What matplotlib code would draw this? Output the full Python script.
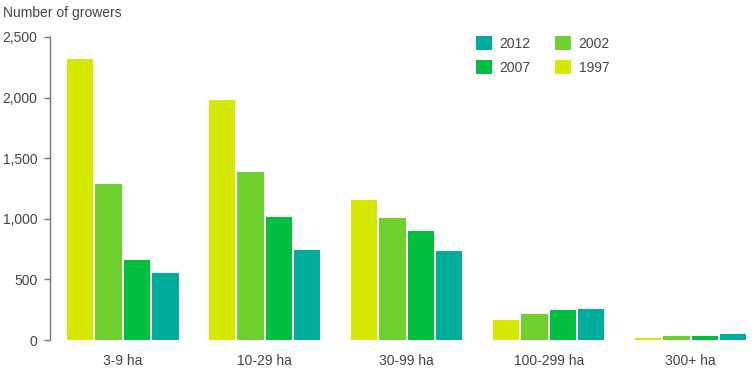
import matplotlib.pyplot as plt
import numpy as np

plt.rcParams['font.family'] = ['Liberation Sans', 'DejaVu Sans']

# data
categories = ['3-9 ha', '10-29 ha', '30-99 ha', '100-299 ha', '300+ ha']
years = ['1997', '2002', '2007', '2012']
growers_1997 = [2320, 1980, 1155, 168, 19]
growers_2002 = [1287, 1389, 1006, 212, 36]
growers_2007 = [660, 1012, 902, 247, 36]
growers_2012 = [550, 745, 732, 256, 50]
yticks = [0, 500, 1000, 1500, 2000, 2500]

colors = {'1997': '#d4e800', '2002': '#6dd02e', '2007': '#00bf3f', '2012': '#00ad9d'}
series = [growers_1997, growers_2002, growers_2007, growers_2012]

fig = plt.figure(figsize=(7.54, 3.69), dpi=100)
ax = fig.add_axes([50/754, 1-340/369, 1-50/754, (340-37)/369])

x = np.arange(len(categories))
step = 0.2
bars = {}
for i, (yr, vals) in enumerate(zip(years, series)):
    bars[yr] = ax.bar(x + (i - 1.5)*step, vals, width=0.186, color=colors[yr],
                      linewidth=0, label=yr)

ax.set_ylim(0, 2500)
ax.set_xlim(-0.512, 4.446)
ax.set_yticks(yticks)
ax.set_yticklabels(['{:,}'.format(v) for v in yticks])
ax.set_xticks(x)
ax.set_xticklabels(categories)

for s in ['top', 'right', 'bottom']:
    ax.spines[s].set_visible(False)
ax.spines['left'].set_color('#777777')
ax.spines['left'].set_linewidth(1)
ax.tick_params(axis='y', length=4, width=1, color='#777777', pad=5,
               labelsize=10, labelcolor='#444444')
ax.tick_params(axis='x', length=0, pad=10, labelsize=10, labelcolor='#444444')

fig.text(3/754, 1-13/369, 'Number of growers', fontsize=10, color='#444444',
         ha='left', va='center')

order = ['2012', '2007', '2002', '1997']
leg = ax.legend([bars[k] for k in order], order, ncol=2, loc='upper left',
                bbox_to_anchor=(476/754, 1-36/369), bbox_transform=fig.transFigure,
                frameon=False, fontsize=10, handlelength=1.15, handleheight=1.15,
                handletextpad=0.55, columnspacing=1.75, labelspacing=0.68,
                borderpad=0, borderaxespad=0)
for t in leg.get_texts():
    t.set_color('#444444')

fig.savefig('out.png', dpi=100)
